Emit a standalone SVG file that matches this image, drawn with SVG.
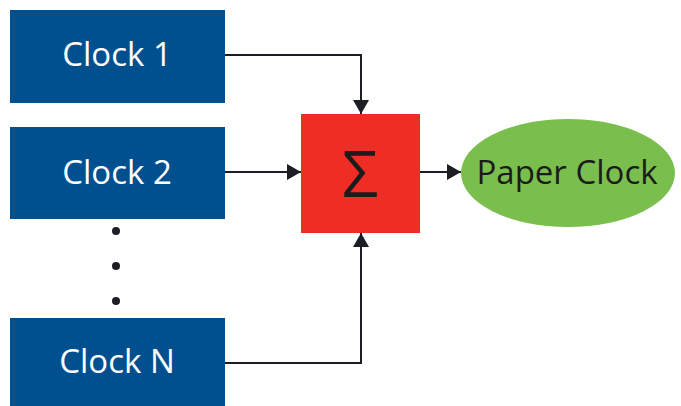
<svg xmlns="http://www.w3.org/2000/svg" width="681" height="406" viewBox="0 0 681 406">
  <style>
    .src { fill: #00508f; }
    .src-label { fill: #ffffff; font-family: "Open Sans", "Liberation Sans", sans-serif; font-size: 33px; text-anchor: middle; }
    .sum { fill: #ee2e24; }
    .sum-label { fill: #1b1b1b; font-family: "Open Sans", "DejaVu Sans", sans-serif; font-size: 64px; text-anchor: middle; }
    .out { fill: #7abf4e; }
    .out-label { fill: #1b1b1b; font-family: "Open Sans", "Liberation Sans", sans-serif; font-size: 33px; text-anchor: middle; }
    .wire { fill: none; stroke: #1b1f24; stroke-width: 2; }
    .dot { fill: #1b1f24; }
  </style>
  <defs>
    <marker id="arrow" viewBox="0 0 14 16" refX="14" refY="8" markerWidth="14" markerHeight="16" markerUnits="userSpaceOnUse" orient="auto">
      <path d="M0,0 L14,8 L0,16 Z" fill="#1b1f24"/>
    </marker>
  </defs>

  <g id="clock-1">
    <rect class="src" x="10" y="10" width="215" height="93"/>
    <text class="src-label" x="117" y="66">Clock 1</text>
  </g>
  <g id="clock-2">
    <rect class="src" x="10" y="127" width="215" height="92"/>
    <text class="src-label" x="117" y="184">Clock 2</text>
  </g>
  <g id="ellipsis">
    <circle class="dot" cx="116" cy="231" r="4"/>
    <circle class="dot" cx="116" cy="266" r="4"/>
    <circle class="dot" cx="116" cy="301" r="4"/>
  </g>
  <g id="clock-n">
    <rect class="src" x="10" y="318" width="215" height="88"/>
    <text class="src-label" x="117" y="373">Clock N</text>
  </g>
  <g id="summer">
    <rect class="sum" x="301" y="114" width="119" height="119"/>
    <text class="sum-label" x="360" y="197">Σ</text>
  </g>
  <g id="paper-clock">
    <ellipse class="out" cx="568" cy="173" rx="107" ry="54"/>
    <text class="out-label" x="567" y="184">Paper Clock</text>
  </g>

  <g id="connectors">
    <path class="wire" d="M225,55 H361 V114" marker-end="url(#arrow)"/>
    <path class="wire" d="M225,172 H301" marker-end="url(#arrow)"/>
    <path class="wire" d="M225,363 H361 V233" marker-end="url(#arrow)"/>
    <path class="wire" d="M420,172 H461" marker-end="url(#arrow)"/>
  </g>
</svg>
